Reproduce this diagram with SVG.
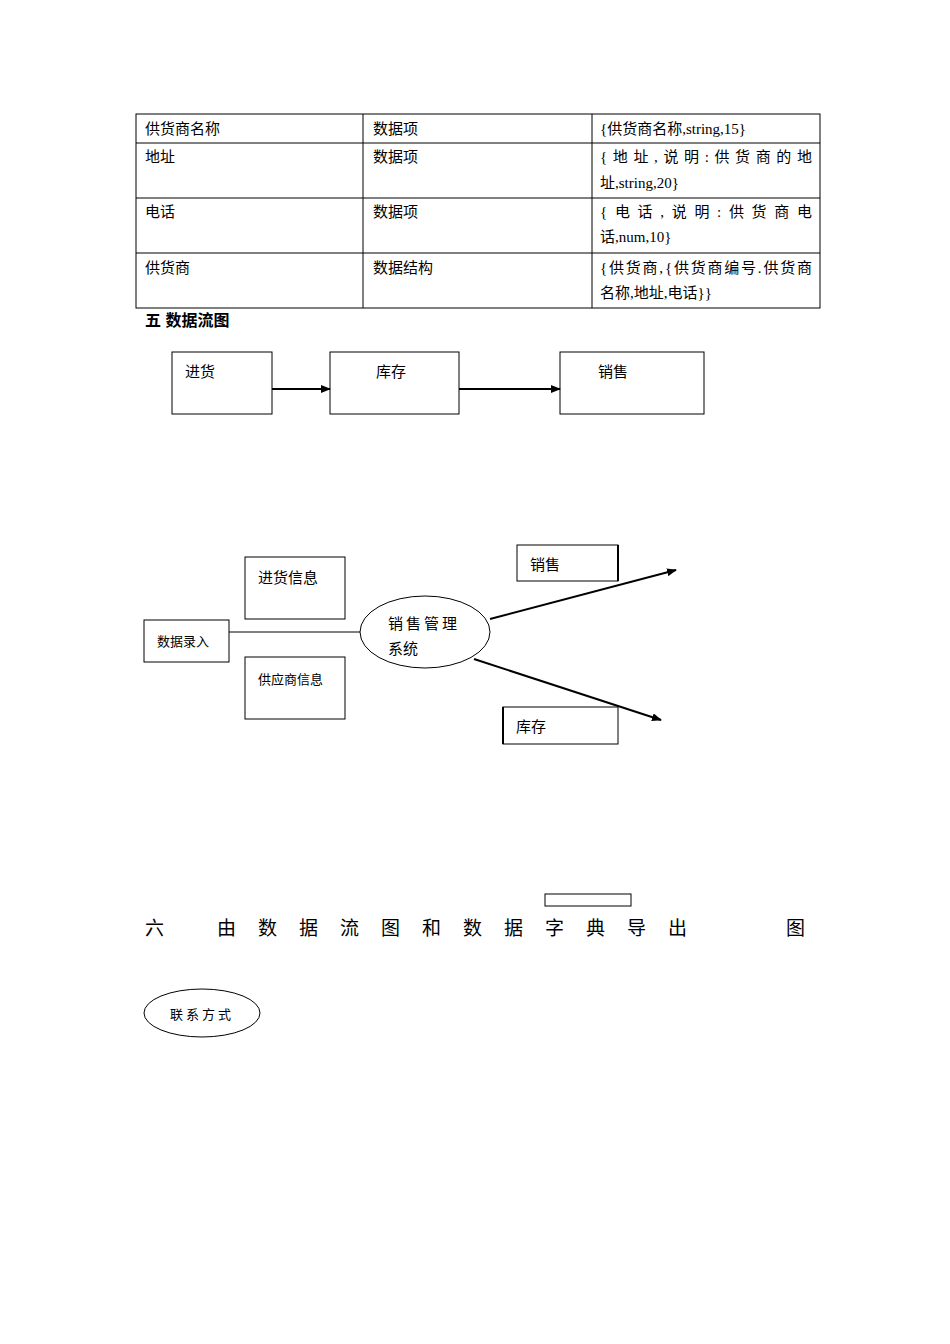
<svg xmlns="http://www.w3.org/2000/svg" width="950" height="1344" viewBox="0 0 950 1344">
<style>
.t{font-family:"Liberation Serif","Noto Sans CJK SC",serif;font-size:15px;fill:#000}
.s{font-size:13px}
.h{font-family:"Liberation Sans","Noto Sans CJK SC",sans-serif;font-size:16px;font-weight:bold;fill:#000}
.h6{font-family:"Liberation Sans","Noto Sans CJK SC",sans-serif;font-size:19px;fill:#000}
.b{fill:#fff;stroke:#000;stroke-width:1}
.ln{stroke:#000;stroke-width:1;fill:none}
.ar{stroke:#000;stroke-width:2;fill:none}
</style>
<defs>
<marker id="ah" markerWidth="10" markerHeight="8" refX="9" refY="4" orient="auto" markerUnits="userSpaceOnUse">
<path d="M0,0 L10,4 L0,8 Z" fill="#000"/>
</marker>
</defs>
<rect width="950" height="1344" fill="#fff"/>
<g id="table">
<rect x="136" y="114" width="684" height="194" class="b"/>
<line x1="136" y1="143" x2="820" y2="143" class="ln"/>
<line x1="136" y1="198" x2="820" y2="198" class="ln"/>
<line x1="136" y1="253" x2="820" y2="253" class="ln"/>
<line x1="363" y1="114" x2="363" y2="308" class="ln"/>
<line x1="592" y1="114" x2="592" y2="308" class="ln"/>
<text class="t" x="145" y="134">供货商名称</text>
<text class="t" x="373" y="134">数据项</text>
<text class="t" x="600" y="134">{供货商名称,string,15}</text>
<text class="t" x="145" y="162">地址</text>
<text class="t" x="373" y="162">数据项</text>
<text class="t" x="600" y="162" textLength="212" lengthAdjust="spacing">{ 地 址 , 说 明 : 供 货 商 的 地</text>
<text class="t" x="600" y="188">址,string,20}</text>
<text class="t" x="145" y="217">电话</text>
<text class="t" x="373" y="217">数据项</text>
<text class="t" x="600" y="217" textLength="212" lengthAdjust="spacing">{ 电 话 , 说 明 : 供 货 商 电</text>
<text class="t" x="600" y="242">话,num,10}</text>
<text class="t" x="145" y="273">供货商</text>
<text class="t" x="373" y="273">数据结构</text>
<text class="t" x="600" y="273" textLength="212" lengthAdjust="spacing">{供货商,{供货商编号.供货商</text>
<text class="t" x="600" y="298">名称,地址,电话}}</text>
</g>
<text class="h" x="145" y="326">五  数据流图</text>
<g id="n_jinhuo"><rect x="172" y="352" width="100" height="62" class="b"/><text class="t" x="185" y="377">进货</text></g>
<g id="n_kucun1"><rect x="330" y="352" width="129" height="62" class="b"/><text class="t" x="376" y="377">库存</text></g>
<g id="n_xiaoshou1"><rect x="560" y="352" width="144" height="62" class="b"/><text class="t" x="598" y="377">销售</text></g>
<g id="n_jhxx"><rect x="245" y="557" width="100" height="62" class="b"/><text class="t" x="258" y="583">进货信息</text></g>
<g id="n_sjlr"><rect x="144" y="620" width="85" height="42" class="b"/><text class="t s" x="157" y="646">数据录入</text></g>
<g id="n_gysxx"><rect x="245" y="657" width="100" height="62" class="b"/><text class="t s" x="258" y="684">供应商信息</text></g>
<g id="n_system"><ellipse cx="425" cy="632" rx="65" ry="36" class="b"/><text class="t" x="388" y="629" letter-spacing="3">销售管理</text><text class="t" x="388" y="654">系统</text></g>
<g id="n_xiaoshou2"><rect x="517" y="545" width="101" height="36" class="b"/><line x1="618" y1="545" x2="618" y2="581" stroke="#000" stroke-width="2"/><text class="t" x="530" y="570">销售</text></g>
<g id="n_kucun2"><rect x="503" y="707" width="115" height="37" class="b"/><line x1="503" y1="707" x2="503" y2="744" stroke="#000" stroke-width="2"/><text class="t" x="516" y="732">库存</text></g>
<g id="connectors">
<line x1="272" y1="389" x2="330" y2="389" class="ar" marker-end="url(#ah)"/>
<line x1="459" y1="389" x2="560" y2="389" class="ar" marker-end="url(#ah)"/>
<line x1="229" y1="632" x2="360" y2="632" class="ln"/>
<line x1="490" y1="619" x2="676" y2="570" class="ar" marker-end="url(#ah)"/>
<line x1="474" y1="659" x2="661" y2="720" class="ar" marker-end="url(#ah)"/>
</g>
<rect x="545" y="894" width="86" height="12" class="b"/>
<g id="heading6" class="h6">
<text x="145" y="935">六</text>
<text x="217" y="935">由</text>
<text x="258" y="935">数</text>
<text x="299" y="935">据</text>
<text x="340" y="935">流</text>
<text x="381" y="935">图</text>
<text x="422" y="935">和</text>
<text x="463" y="935">数</text>
<text x="504" y="935">据</text>
<text x="545" y="935">字</text>
<text x="586" y="935">典</text>
<text x="627" y="935">导</text>
<text x="668" y="935">出</text>
<text x="786" y="935">图</text>
</g>
<g id="n_lxfs"><ellipse cx="202" cy="1013" rx="58" ry="24" class="b"/><text class="t s" x="170" y="1019" letter-spacing="3">联系方式</text></g>
</svg>
